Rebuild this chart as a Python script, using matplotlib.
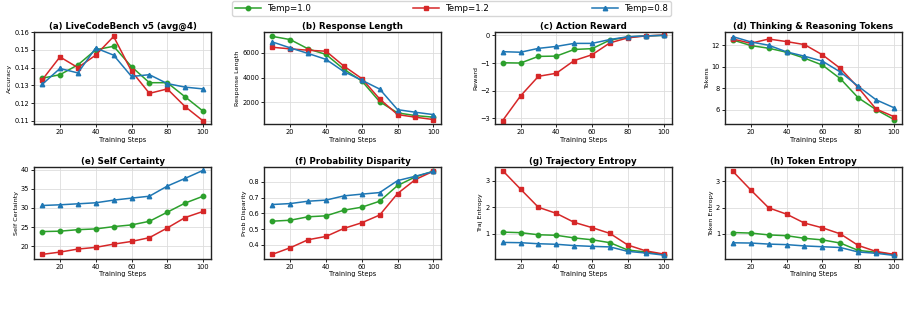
import matplotlib
matplotlib.use("Agg")
import matplotlib.pyplot as plt

steps = [10, 20, 30, 40, 50, 60, 70, 80, 90, 100]

# (a) LiveCodeBench accuracy
acc_10 = [0.134, 0.136, 0.1415, 0.150, 0.152, 0.1405, 0.1315, 0.1315, 0.1235, 0.1155]
acc_12 = [0.133, 0.146, 0.140, 0.147, 0.1575, 0.138, 0.1255, 0.128, 0.118, 0.110]
acc_08 = [0.1305, 0.1395, 0.137, 0.151, 0.147, 0.135, 0.136, 0.131, 0.129, 0.128]

# (b) response length
len_10 = [7330, 7070, 6320, 5870, 4670, 3730, 2050, 1150, 930, 800]
len_12 = [6450, 6320, 6210, 6130, 4930, 3920, 2270, 1010, 800, 610]
len_08 = [6880, 6400, 5950, 5470, 4480, 3790, 3070, 1410, 1200, 1010]

# (c) action reward
rew_10 = [-0.99, -1.00, -0.76, -0.75, -0.51, -0.48, -0.17, -0.06, -0.02, 0.0]
rew_12 = [-3.08, -2.19, -1.48, -1.37, -0.91, -0.70, -0.27, -0.09, -0.02, 0.01]
rew_08 = [-0.59, -0.61, -0.47, -0.40, -0.29, -0.29, -0.15, -0.05, -0.02, 0.0]

# (d) thinking & reasoning tokens
tok_10 = [12.49, 11.97, 11.72, 11.35, 10.80, 10.15, 8.89, 7.11, 6.00, 5.08]
tok_12 = [12.58, 12.18, 12.58, 12.34, 12.06, 11.11, 9.85, 8.06, 6.06, 5.35]
tok_08 = [12.80, 12.31, 12.00, 11.38, 10.98, 10.52, 9.51, 8.18, 6.92, 6.18]

# (e) self certainty
sc_10 = [23.8, 23.9, 24.3, 24.5, 25.1, 25.55, 26.5, 28.9, 31.3, 33.1]
sc_12 = [17.8, 18.4, 19.2, 19.65, 20.5, 21.2, 22.2, 24.75, 27.5, 29.1]
sc_08 = [30.66, 30.84, 31.1, 31.37, 32.07, 32.6, 33.1, 35.76, 37.8, 39.9]

# (f) probability disparity
pd_10 = [0.550, 0.556, 0.578, 0.584, 0.620, 0.639, 0.677, 0.777, 0.832, 0.868]
pd_12 = [0.339, 0.381, 0.432, 0.453, 0.504, 0.540, 0.589, 0.726, 0.815, 0.868]
pd_08 = [0.656, 0.662, 0.677, 0.684, 0.711, 0.722, 0.732, 0.808, 0.836, 0.866]

# (g) trajectory entropy
te_10 = [1.06, 1.04, 0.96, 0.94, 0.84, 0.77, 0.66, 0.38, 0.31, 0.21]
te_12 = [3.39, 2.69, 2.00, 1.77, 1.43, 1.23, 1.01, 0.57, 0.35, 0.23]
te_08 = [0.67, 0.66, 0.62, 0.60, 0.55, 0.52, 0.50, 0.33, 0.27, 0.19]

# (h) token entropy
ke_10 = [1.05, 1.03, 0.96, 0.93, 0.83, 0.77, 0.65, 0.37, 0.30, 0.21]
ke_12 = [3.38, 2.67, 1.99, 1.75, 1.41, 1.23, 1.00, 0.56, 0.33, 0.22]
ke_08 = [0.66, 0.65, 0.61, 0.59, 0.54, 0.51, 0.48, 0.31, 0.26, 0.18]

panels = [
    ("(a) LiveCodeBench v5 (avg@4)", "Accuracy", acc_10, acc_12, acc_08),
    ("(b) Response Length", "Response Length", len_10, len_12, len_08),
    ("(c) Action Reward", "Reward", rew_10, rew_12, rew_08),
    ("(d) Thinking & Reasoning Tokens", "Tokens", tok_10, tok_12, tok_08),
    ("(e) Self Certainty", "Self Certainty", sc_10, sc_12, sc_08),
    ("(f) Probability Disparity", "Prob Disparity", pd_10, pd_12, pd_08),
    ("(g) Trajectory Entropy", "Traj Entropy", te_10, te_12, te_08),
    ("(h) Token Entropy", "Token Entropy", ke_10, ke_12, ke_08),
]

green, red, blue = "#2ca02c", "#d62728", "#1f77b4"

fig, axes = plt.subplots(2, 4, figsize=(9.09, 3.11), dpi=100)
fig.subplots_adjust(left=0.0374, right=0.9923, top=0.897, bottom=0.167,
                    wspace=0.30, hspace=0.456)

for ax, (title, ylabel, s10, s12, s08) in zip(axes.flat, panels):
    kw = dict(linewidth=1.1, markersize=3.2)
    ax.plot(steps, s10, "o-", color=green, label="Temp=1.0", **kw)
    ax.plot(steps, s12, "s-", color=red, label="Temp=1.2", **kw)
    ax.plot(steps, s08, "^-", color=blue, label="Temp=0.8", **kw)
    ax.set_title(title, fontsize=6.2, fontweight="bold", pad=2)
    ax.set_ylabel(ylabel, fontsize=4.6, labelpad=1.5)
    ax.set_xlabel("Training Steps", fontsize=4.8, labelpad=1)
    ax.set_xticks([20, 40, 60, 80, 100])
    ax.tick_params(labelsize=4.8, length=2, width=0.6, pad=1.5)
    ax.grid(True, color="#dddddd", linewidth=0.6)
    for sp in ax.spines.values():
        sp.set_linewidth(1.0)
        sp.set_color("#222222")

axes[0, 0].set_ylim(0.108, 0.160)
axes[0, 0].set_yticks([0.11, 0.12, 0.13, 0.14, 0.15, 0.16])
axes[0, 1].set_ylim(213, 7680)
axes[0, 1].set_yticks([2000, 4000, 6000])
axes[0, 2].set_ylim(-3.22, 0.12)
axes[0, 2].set_yticks([-3, -2, -1, 0])
axes[0, 3].set_ylim(4.62, 13.23)
axes[0, 3].set_yticks([6, 8, 10, 12])
axes[1, 0].set_ylim(16.57, 40.88)
axes[1, 1].set_ylim(0.309, 0.897)
axes[1, 2].set_ylim(0.04, 3.54)
axes[1, 2].set_yticks([1, 2, 3])
axes[1, 3].set_ylim(0.04, 3.56)
axes[1, 3].set_yticks([1, 2, 3])

handles, labels = axes[0, 0].get_legend_handles_labels()
fig.legend(handles, labels, loc="lower left", ncol=3, mode="expand",
           bbox_to_anchor=(0.251, 0.936, 0.492, 0.05), fontsize=6.2,
           handlelength=3, borderpad=0.3, frameon=True, fancybox=True,
           edgecolor="#cccccc")

fig.savefig("out.png", dpi=100)
